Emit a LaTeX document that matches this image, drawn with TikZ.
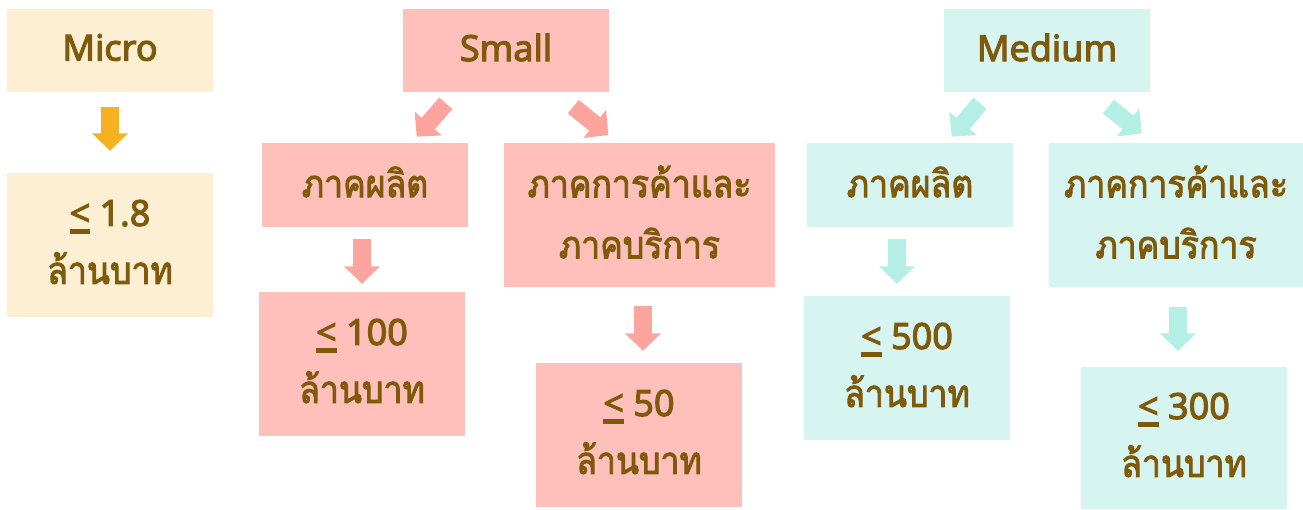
\documentclass[tikz,border=0pt]{standalone}
\usepackage{fontspec}
\setmainfont{Noto Sans}[FakeBold=3]
\newfontfamily\thaifont{Loma}[Script=Thai,FakeBold=2.5,FakeStretch=0.89]
\usetikzlibrary{arrows.meta,calc}
\definecolor{txt}{HTML}{7F5A0B}
\definecolor{microfill}{HTML}{FCEFD3}
\definecolor{microarrow}{HTML}{F5B11F}
\definecolor{pinkfill}{HTML}{FFBFBA}
\definecolor{pinkarrow}{HTML}{FCA49E}
\definecolor{tealfill}{HTML}{D6F5F0}
\definecolor{tealarrow}{HTML}{B3EFE4}
\newcommand\uleq{{\setbox0\hbox{<}\rlap{\rule[-8pt]{\wd0}{5pt}}\box0}}
\newcommand\up[2]{\raisebox{#1}[\height][\depth]{#2}}
\newcommand\thai[1]{\up{3pt}{\thaifont\fontsize{38}{58}\selectfont #1}}
\newcommand\lat[1]{\up{3pt}{#1}}
\begin{document}
\begin{tikzpicture}[x=1pt,y=-1pt,
  box/.style={rectangle, inner sep=0pt, text=txt, align=center,
    font=\fontsize{36}{58}\selectfont},
  mic/.style={box, fill=microfill},
  pnk/.style={box, fill=pinkfill},
  tea/.style={box, fill=tealfill},
  two/.style={font=\fontsize{36}{61}\selectfont},
  arr/.style={line width=17.5pt, -{Triangle[width=35pt,length=17.5pt]}},
  ]
\useasboundingbox (0,0) rectangle (1303,509);
% Micro
\node[mic, minimum width=206pt, minimum height=83pt] (mi) at (110,50.5) {\lat{Micro}};
\node[mic, minimum width=206pt, minimum height=144pt] (mi2) at (110,245) {\lat{\uleq{} 1.8}\\\thai{ล้านบาท}};
% Small
\node[pnk, minimum width=206pt, minimum height=83pt] (sm) at (506,50.5) {\lat{Small}};
\node[pnk, minimum width=206pt, minimum height=84pt] (s1) at (365,185) {\thai{ภาคผลิต}};
\node[pnk, two, minimum width=271pt, minimum height=144pt] (s2) at (639.5,215) {\thai{ภาคการค้าและ}\\\thai{ภาคบริการ}};
\node[pnk, minimum width=206pt, minimum height=144pt] (s3) at (362,364) {\lat{\uleq{} 100}\\\thai{ล้านบาท}};
\node[pnk, minimum width=206pt, minimum height=144pt] (s4) at (639,435) {\lat{\uleq{} 50}\\\thai{ล้านบาท}};
% Medium
\node[tea, minimum width=206pt, minimum height=83pt] (md) at (1047,50.5) {\lat{Medium}};
\node[tea, minimum width=206pt, minimum height=84pt] (m1) at (910,185) {\thai{ภาคผลิต}};
\node[tea, two, minimum width=254pt, minimum height=144pt] (m2) at (1176,215) {\thai{ภาคการค้าและ}\\\thai{ภาคบริการ}};
\node[tea, minimum width=206pt, minimum height=144pt] (m3) at (907,368) {\lat{\uleq{} 500}\\\thai{ล้านบาท}};
\node[tea, minimum width=206pt, minimum height=142pt] (m4) at (1184,438) {\lat{\uleq{} 300}\\\thai{ล้านบาท}};
% arrow end points (diagonal)
\coordinate (sLa) at (445.8,103.3); \coordinate (sLb) at (416.7,136.7);
\coordinate (sRa) at (573.3,106.7); \coordinate (sRb) at (608.3,135);
\coordinate (mLa) at (980,103.3);   \coordinate (mLb) at (951.7,136.7);
\coordinate (mRa) at (1108.3,106.7); \coordinate (mRb) at (1141.7,133.3);
% arrows
\draw[arr, microarrow, shorten <=15pt, shorten >=22pt] (mi.south) -- (mi2.north);
\draw[arr, pinkarrow] (sLa) -- (sLb);
\draw[arr, pinkarrow] (sRa) -- (sRb);
\draw[arr, pinkarrow, shorten <=12pt, shorten >=8pt] ([xshift=-3pt]s1.south) -- (s3.north);
\draw[arr, pinkarrow, shorten <=19pt, shorten >=12pt] ([xshift=3.5pt]s2.south) -- ([xshift=4pt]s4.north);
\draw[arr, tealarrow] (mLa) -- (mLb);
\draw[arr, tealarrow] (mRa) -- (mRb);
\draw[arr, tealarrow, shorten <=12pt, shorten >=12pt] ([xshift=-13pt]m1.south) -- ([xshift=-10pt]m3.north);
\draw[arr, tealarrow, shorten <=20pt, shorten >=16pt] ([xshift=2pt]m2.south) -- ([xshift=-6pt]m4.north);
\end{tikzpicture}
\end{document}
